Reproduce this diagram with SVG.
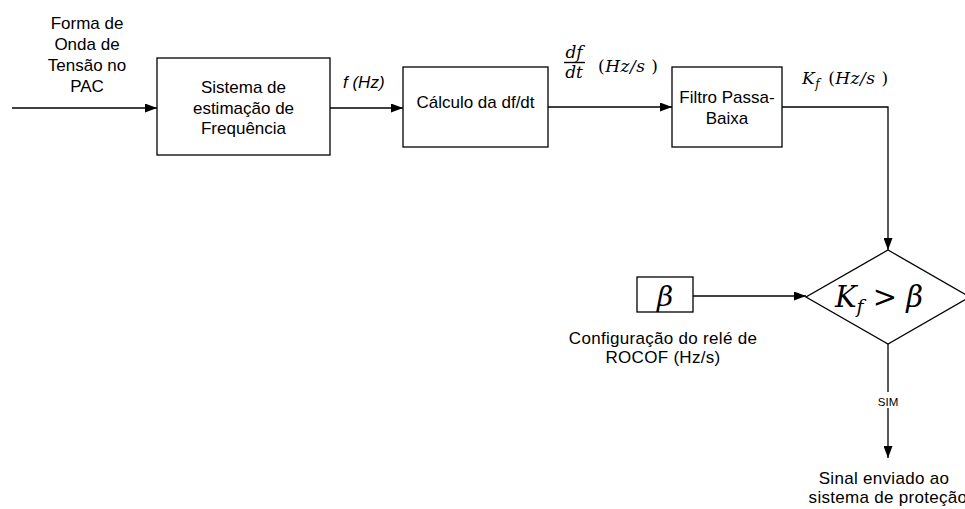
<svg xmlns="http://www.w3.org/2000/svg" width="965" height="509" viewBox="0 0 965 509">
<defs>
<marker id="arr" markerWidth="12" markerHeight="9" refX="12" refY="4.5" orient="auto" markerUnits="userSpaceOnUse">
<path d="M0,0 L12,4.5 L0,9 Z" fill="#000"/>
</marker>
<style>
.box{fill:#fff;stroke:#000;stroke-width:1.3}
.t{font-family:"Liberation Sans",Arial,sans-serif;font-size:17px;fill:#000;text-anchor:middle}
.it{font-family:"Liberation Sans",Arial,sans-serif;font-size:17px;font-style:italic;fill:#000}
.m{font-family:"DejaVu Serif","Liberation Serif",serif;font-style:italic;fill:#000}
.c{fill:none;stroke:#000;stroke-width:1.3}
</style>
</defs>
<rect width="965" height="509" fill="#fff"/>
<g id="connectors">
<line class="c" x1="12" y1="108" x2="157" y2="108" marker-end="url(#arr)"/>
<line class="c" x1="330" y1="108" x2="403" y2="108" marker-end="url(#arr)"/>
<line class="c" x1="548" y1="107" x2="672" y2="107" marker-end="url(#arr)"/>
<polyline class="c" points="782,107 888,107 888,250" marker-end="url(#arr)"/>
<line class="c" x1="693" y1="296" x2="806" y2="296" marker-end="url(#arr)"/>
<line class="c" x1="888" y1="344" x2="888" y2="458" marker-end="url(#arr)"/>
<rect x="873" y="392" width="30" height="16" fill="#fff"/>
<text x="888" y="406" font-family="Liberation Sans,Arial,sans-serif" font-size="11.5" text-anchor="middle">SIM</text>
<text class="it" x="343" y="88">f (Hz)</text>
<g id="dfdt">
<text class="m" x="574" y="58" font-size="17" text-anchor="middle">df</text>
<line x1="564" y1="62.5" x2="585" y2="62.5" stroke="#000" stroke-width="1.4"/>
<text class="m" x="574" y="78" font-size="17" text-anchor="middle">dt</text>
<text x="598" y="72" font-family="DejaVu Serif,Liberation Serif,serif" font-size="17" letter-spacing="0.5">(<tspan font-style="italic">Hz/s</tspan> )</text>
</g>
<g id="kflabel">
<text x="802" y="84" font-family="DejaVu Serif,Liberation Serif,serif" font-size="17" letter-spacing="0.5"><tspan font-style="italic">K</tspan><tspan font-style="italic" font-size="12" dy="4">f</tspan><tspan dy="-4" dx="8">(</tspan><tspan font-style="italic">Hz/s</tspan> )</text>
</g>
</g>
<g id="input-label">
<text class="t" x="87" y="29">Forma de</text>
<text class="t" x="87" y="50">Onda de</text>
<text class="t" x="87" y="71">Tensão no</text>
<text class="t" x="87" y="92">PAC</text>
</g>
<g id="node-freq">
<rect class="box" x="157" y="58" width="173" height="97"/>
<text class="t" x="243.5" y="93">Sistema de</text>
<text class="t" x="243.5" y="114">estimação de</text>
<text class="t" x="243.5" y="134">Frequência</text>
</g>
<g id="node-dfdt">
<rect class="box" x="403" y="67" width="145" height="80"/>
<text class="t" x="475.5" y="108">Cálculo da df/dt</text>
</g>
<g id="node-filter">
<rect class="box" x="672" y="67" width="110" height="80"/>
<text class="t" x="727" y="103">Filtro Passa-</text>
<text class="t" x="727" y="124">Baixa</text>
</g>
<g id="node-beta">
<rect class="box" x="637" y="277" width="56" height="35"/>
<text class="m" x="665" y="306" font-size="28" text-anchor="middle">β</text>
<text class="t" x="663" y="344" letter-spacing="0.3">Configuração do relé de</text>
<text class="t" x="663" y="363" letter-spacing="0.3">ROCOF (Hz/s)</text>
</g>
<g id="node-decision">
<polygon class="box" points="888,250 970,297 888,344 806,297"/>
<text x="879" y="307" font-family="DejaVu Serif,Liberation Serif,serif" font-size="29" text-anchor="middle"><tspan font-style="italic">K</tspan><tspan font-style="italic" font-size="19" dy="6">f</tspan><tspan dy="-6"> &gt; </tspan><tspan font-style="italic">β</tspan></text>
</g>
<g id="output-label">
<text class="t" x="884" y="484" font-size="16" letter-spacing="0.3">Sinal enviado ao</text>
<text class="t" x="888" y="503" font-size="16" letter-spacing="0.3">sistema de proteção</text>
</g>
</svg>
